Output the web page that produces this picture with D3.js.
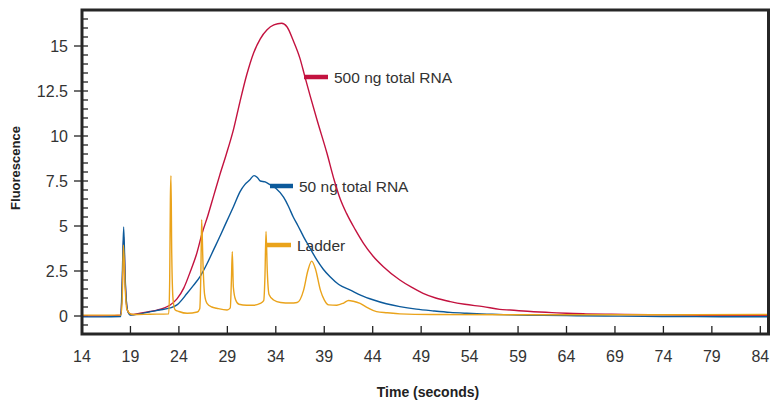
<!DOCTYPE html>
<meta charset="utf-8">
<style>
  body { margin: 0; background: #fff; }
  text { font-family: "Liberation Sans", Arial, sans-serif; }
</style>
<svg width="771" height="402"></svg>
<script src="https://d3js.org/d3.v7.min.js"></script>
<script>
// time (s) and fluorescence
const redTime = [14, 16, 18.0, 18.15, 18.3, 18.45, 18.7, 19, 20, 21, 21.75, 22.5, 23.1, 23.8, 24.5, 25.2, 25.8, 26.4, 27.0, 27.6, 28.2, 28.9, 29.65, 30.3, 31.0, 31.7, 32.4, 33.1, 33.8, 34.6, 35.15, 35.8, 36.5, 37.0, 37.56, 38.25, 39.28, 40.0, 40.65, 41.3, 42.2, 43.05, 44.0, 45.1, 46.8, 48.0, 49.2, 50.5, 52.0, 53.5, 55.4, 57.1, 58.2, 60.6, 62.5, 64.0, 66, 68, 70, 74, 78, 82, 85];
const redValues = [0.0, 0.0, 0.05, 1.5, 4.4, 2.0, 0.3, 0.08, 0.15, 0.25, 0.33, 0.45, 0.61, 0.95, 1.55, 2.5, 3.4, 4.6, 5.6, 6.7, 7.8, 9.0, 10.4, 11.9, 13.4, 14.6, 15.4, 15.9, 16.17, 16.26, 16.07, 15.3, 14.3, 13.3, 12.2, 10.9, 9.04, 7.6, 6.5, 5.7, 4.8, 4.04, 3.35, 2.74, 2.0, 1.6, 1.26, 1.0, 0.8, 0.65, 0.52, 0.37, 0.33, 0.24, 0.19, 0.15, 0.12, 0.1, 0.08, 0.06, 0.04, 0.03, 0.02];

const blueTime = [14, 16, 18.0, 18.15, 18.3, 18.45, 18.7, 19, 20, 21.06, 22, 23.1, 23.8, 24.85, 25.5, 26.2, 26.9, 27.6, 28.3, 28.97, 29.65, 30.3, 30.8, 31.3, 31.75, 32.1, 32.4, 32.9, 33.4, 34.0, 34.8, 35.3, 35.8, 36.3, 36.87, 37.5, 38.25, 38.9, 39.6, 40.5, 41.7, 42.8, 44.1, 45.4, 46.8, 48.5, 50.3, 52, 53.7, 56, 58.2, 61, 64, 68, 72, 76, 80, 85];
const blueValues = [-0.05, -0.05, -0.03, 2.0, 4.95, 2.2, 0.3, 0.05, 0.12, 0.24, 0.33, 0.45, 0.62, 1.26, 1.7, 2.2, 2.9, 3.7, 4.5, 5.3, 6.1, 6.9, 7.3, 7.55, 7.8, 7.7, 7.5, 7.45, 7.3, 7.1, 6.6, 6.1, 5.5, 5.0, 4.4, 3.8, 3.1, 2.6, 2.18, 1.75, 1.44, 1.15, 0.89, 0.68, 0.52, 0.38, 0.28, 0.2, 0.15, 0.1, 0.06, 0.04, 0.02, 0.0, -0.02, -0.03, -0.04, -0.04];

const ladderTime = [14, 16, 18.0, 18.14, 18.28, 18.45, 18.62, 18.9, 19.3, 21, 22.95, 23.05, 23.12, 23.18, 23.26, 23.4, 23.6, 24.0, 24.85, 25.9, 26.15, 26.27, 26.35, 26.48, 26.65, 26.9, 27.4, 27.9, 28.97, 29.3, 29.42, 29.51, 29.62, 29.85, 30.2, 31.0, 31.7, 32.4, 32.75, 32.88, 32.99, 33.12, 33.3, 33.77, 34.5, 35.5, 36.2, 36.87, 37.3, 37.7, 38.1, 38.6, 39.0, 39.45, 40.3, 41.0, 41.5, 42.0, 42.7, 43.5, 44.4, 45.5, 46.8, 50, 60, 70, 85];
const ladderValues = [0.05, 0.05, 0.05, 0.8, 3.95, 1.6, 0.4, 0.15, 0.08, 0.1, 0.12, 2.0, 6.5, 7.8, 3.5, 0.9, 0.35, 0.25, 0.15, 0.22, 0.4, 2.5, 5.35, 3.0, 1.2, 0.7, 0.5, 0.43, 0.33, 0.45, 2.0, 3.57, 1.6, 0.9, 0.65, 0.6, 0.6, 0.7, 0.85, 2.2, 4.7, 2.5, 1.2, 0.89, 0.75, 0.72, 0.75, 1.44, 2.5, 3.05, 2.6, 1.44, 0.9, 0.62, 0.6, 0.72, 0.86, 0.82, 0.7, 0.45, 0.24, 0.18, 0.12, 0.08, 0.07, 0.07, 0.08];

const xTicks = [14, 19, 24, 29, 34, 39, 44, 49, 54, 59, 64, 69, 74, 79, 84];
const yTicks = [0, 2.5, 5, 7.5, 10, 12.5, 15];
const yMinor = d3.range(-1, 17.01, 0.5);

const series = [
  {name: "500 ng total RNA", time: redTime, values: redValues, color: "#c3123f", key: [304, 328, 77]},
  {name: "50 ng total RNA", time: blueTime, values: blueValues, color: "#0c5a9b", key: [270, 293, 186]},
  {name: "Ladder", time: ladderTime, values: ladderValues, color: "#eaa31b", key: [267, 291, 245]},
];

const margin = ({top: 10, right: 1, bottom: 68, left: 82});
const width = 771, height = 402;

const x = d3.scaleLinear([14, 85], [margin.left, width - margin.right]);
const y = d3.scaleLinear([-1, 17], [height - margin.bottom, margin.top]);

const svg = d3.select("svg");

// y axis: minor ticks inward, major ones cross the spine
svg.append("g")
    .attr("stroke", "#222")
    .attr("stroke-width", 1.3)
  .selectAll("line")
  .data(yMinor)
  .join("line")
    .attr("x1", d => yTicks.includes(d) ? margin.left - 8 : margin.left)
    .attr("x2", margin.left + 6)
    .attr("y1", d => y(d))
    .attr("y2", d => y(d));

svg.append("g")
    .attr("font-size", 16)
    .attr("fill", "#333")
    .attr("text-anchor", "end")
  .selectAll("text")
  .data(yTicks)
  .join("text")
    .attr("x", margin.left - 14)
    .attr("y", d => y(d))
    .attr("dy", "0.36em")
    .text(d => d);

// x axis: ticks point into the plot
svg.append("g")
    .attr("stroke", "#222")
    .attr("stroke-width", 1.3)
  .selectAll("line")
  .data(xTicks.slice(1))
  .join("line")
    .attr("x1", d => x(d))
    .attr("x2", d => x(d))
    .attr("y1", y(-1) - 8)
    .attr("y2", y(-1));

svg.append("g")
    .attr("font-size", 16)
    .attr("fill", "#333")
    .attr("text-anchor", "middle")
  .selectAll("text")
  .data(xTicks)
  .join("text")
    .attr("x", d => x(d))
    .attr("y", 362)
    .text(d => d);

// legend labels sit under the traces
const key = svg.append("g");
key.selectAll("line")
  .data(series)
  .join("line")
    .attr("x1", d => d.key[0])
    .attr("x2", d => d.key[1])
    .attr("y1", d => d.key[2])
    .attr("y2", d => d.key[2])
    .attr("stroke", d => d.color)
    .attr("stroke-width", 4.5);
key.selectAll("text")
  .data(series)
  .join("text")
    .attr("x", d => d.key[1] + 6)
    .attr("y", d => d.key[2])
    .attr("dy", "0.36em")
    .attr("font-size", 15.5)
    .attr("fill", "#333")
    .text(d => d.name);

const line = d3.line()
    .x(d => x(d[0]))
    .y(d => y(d[1]))
    .curve(d3.curveMonotoneX);

svg.append("g")
    .attr("fill", "none")
    .attr("stroke-width", 1.4)
    .attr("stroke-linejoin", "round")
  .selectAll("path")
  .data(series)
  .join("path")
    .attr("stroke", d => d.color)
    .attr("d", d => line(d3.zip(d.time, d.values)));

// frame
svg.append("rect")
    .attr("x", x(14))
    .attr("y", y(17))
    .attr("width", x(85) - x(14) - 1.5)
    .attr("height", y(-1) - y(17))
    .attr("fill", "none")
    .attr("stroke", "#262626")
    .attr("stroke-width", 3);

svg.append("text")
    .attr("x", 428)
    .attr("y", 397)
    .attr("text-anchor", "middle")
    .attr("font-size", 14)
    .attr("font-weight", "bold")
    .attr("fill", "#222")
    .text("Time (seconds)");

svg.append("text")
    .attr("transform", "translate(20,168) rotate(-90)")
    .attr("text-anchor", "middle")
    .attr("font-size", 13)
    .attr("font-weight", "bold")
    .attr("fill", "#222")
    .text("Fluorescence");
</script>
